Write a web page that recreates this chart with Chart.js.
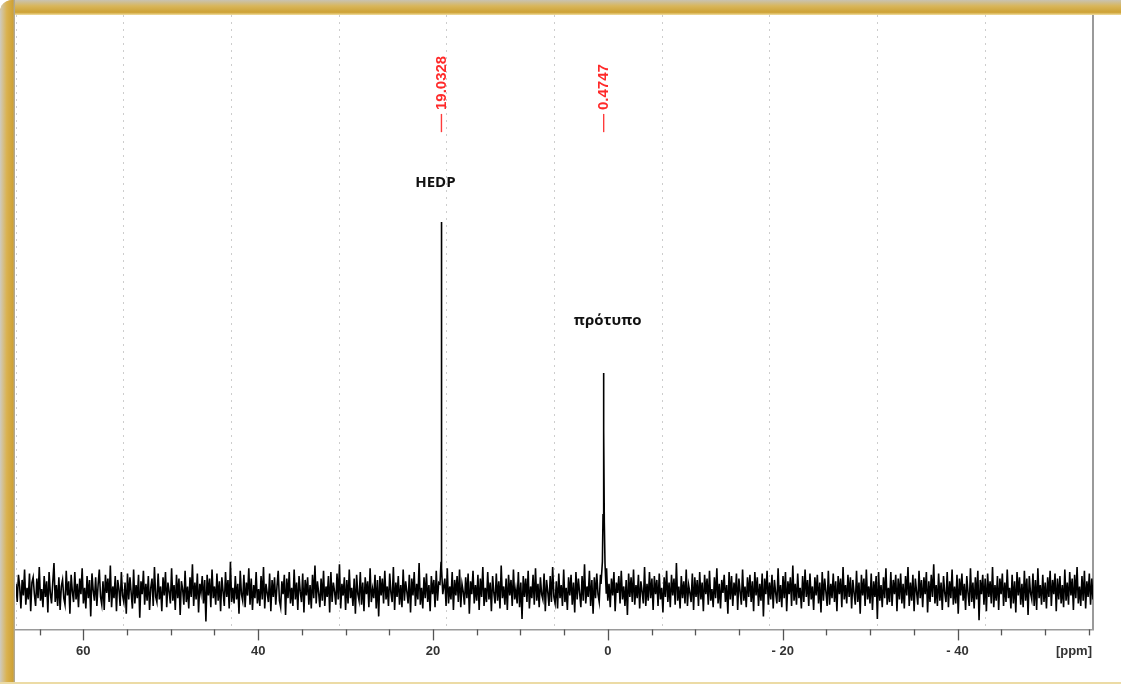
<!DOCTYPE html>
<html>
<head>
<meta charset="utf-8">
<script src="https://cdn.jsdelivr.net/npm/chart.js@4.4.1/dist/chart.umd.min.js"></script>
<style>
  html, body { margin: 0; padding: 0; background: #fff; }
  #wrap { position: relative; width: 1121px; height: 684px; overflow: hidden; }
  #spectrum { position: absolute; left: 0; top: 0; }
  .frame-top { position: absolute; left: 0; top: 0; width: 1121px; height: 15px;
    background: linear-gradient(to bottom, #c9c3b1 0%, #d8b65b 40%, #cea235 82%, #f1dfa2 100%);
    border-top-left-radius: 12px; }
  .frame-left { position: absolute; left: 0; top: 0; width: 15px; height: 684px;
    background: linear-gradient(to right, #cfcbc0 0%, #dab250 45%, #cfa236 85%, #a9a9a9 100%);
    border-top-left-radius: 12px; }
  .frame-bottom { position: absolute; left: 0; bottom: 0; width: 1121px; height: 2px; background: #ecdba5; }
</style>
</head>
<body>
<div id="wrap">
  <canvas id="spectrum" width="1121" height="684"></canvas>
  <div class="frame-top"></div>
  <div class="frame-left"></div>
  <div class="frame-bottom"></div>
</div>
<script>
// 31P spectrum: chemical shift window (ppm), baseline noise and the two signals
const ppmLeft = 67.7;
const ppmRight = -55.5;

const noise = [
  5,-9,12,3,-14,8,-4,16,-11,2,-7,13,-16,6,10,-3,-12,9,-6,18,-8,1,-13,11,-5,7,-17,14,-2,-10,6,21,-9,4,-12,10,-15,3,8,-6,
  -11,15,-4,7,-18,12,-1,-9,14,-7,5,-13,9,-3,17,-10,2,-14,11,-6,8,-20,13,0,-8,10,-12,4,16,-5,-11,7,-15,12,-2,9,-9,19,-13,3,
  -6,11,-16,8,1,-12,14,-4,-9,6,-18,13,-7,10,-2,-14,16,-10,4,-6,12,-21,7,-3,15,-11,5,-8,11,-15,2,9,-12,18,-5,-9,13,-7,3,-16,
  10,-4,14,-13,6,-1,-10,17,-8,4,-15,12,-6,9,-19,7,1,-11,15,-9,3,-14,10,-5,20,-12,6,-7,13,-17,5,-2,11,-10,8,-24,12,-4,9,-13,
  16,-6,3,-11,13,-8,7,-16,10,-1,-12,14,-5,8,-14,22,-9,2,-10,11,-7,5,-18,15,-3,-8,12,-13,6,-4,17,-11,9,-15,4,-6,14,-10,1,-12,
  11,-7,18,-14,5,-2,-9,13,-16,8,-5,10,-11,3,15,-8,-13,7,-3,12,-19,9,-6,14,-10,2,-12,16,-7,6,-15,11,-1,-9,13,-17,8,-4,10,-11,
  4,-14,12,-6,19,-10,7,-2,-13,9,-8,15,-12,3,-5,11,-17,14,-9,6,-1,-11,13,-7,20,-14,5,-4,10,-15,8,-10,16,-6,2,-12,9,-18,12,-3,
  -8,14,-11,6,-16,10,-3,7,-13,17,-9,1,-6,12,-14,8,-20,11,-4,9,-10,15,-7,3,-12,13,-2,-9,18,-15,6,-5,11,-11,4,-13,16,-8,7,-1,
  -10,12,-17,9,-4,14,-12,5,-7,21,-11,2,-14,10,-6,13,-9,4,-16,11,-3,8,-13,15,-8,6,-19,12,-5,-2,9,-12,17,-10,3,-7,14,-15,8,-4,
  11,-9,16,-13,5,-1,-11,10,-6,13,-18,7,-3,15,-10,4,-8,12,-15,9,-5,18,-12,2,-9,14,-7,6,-16,11,-2,-10,13,-8,7,-14,19,-6,3,-11,
  9,-15,12,-4,8,-12,16,-7,1,-10,14,-13,6,-22,11,-5,9,-9,15,-14,3,-6,12,-11,17,-8,5,-13,10,-3,-7,13,-16,8,-1,-12,11,-9,18,-5,
  -10,7,-14,13,-6,4,-12,16,-9,2,-15,10,-4,12,-11,6,-17,14,-7,9,-2,-13,11,-8,20,-10,3,-5,15,-12,8,-18,10,-6,13,-3,-9,12,-14,7,
  1,-11,17,-8,5,-13,9,-4,14,-16,6,-2,11,-10,15,-7,3,-12,8,-19,13,-5,10,-9,16,-11,4,-6,12,-14,7,-1,-10,18,-12,5,-8,14,-6,9,
  -15,11,-3,8,-12,13,-7,2,-17,10,-5,15,-9,6,-13,12,-4,9,-11,21,-8,3,-14,11,-6,7,-10,16,-12,4,-2,-9,13,-15,10,-5,8,-12,14,-7,
  6,-16,12,-3,9,-11,15,-8,1,-13,10,-6,17,-10,5,-14,8,-2,12,-9,4,-18,14,-7,11,-12,6,-4,13,-15,9,-1,-11,16,-8,3,-13,10,-5,12,
  -9,7,-16,14,-4,10,-12,5,-8,13,-20,9,-3,15,-11,6,-7,12,-14,8,-2,-10,17,-9,4,-13,11,-6,14,-16,7,-3,10,-12,19,-8,5,-11,13,-6,
  2,-14,11,-9,16,-5,8,-12,13,-7,3,-15,10,-4,12,-10,6,-17,14,-8,9,-1,-12,15,-11,5,-6,13,-9,7,-16,11,-3,9,-13,18,-7,4,-10,12,
  -5,10,-14,8,-2,-11,15,-9,6,-18,12,-4,9,-12,16,-7,3,-10,13,-15,7,-5,11,-22,14,-8,4,-13,10,-6,17,-11,2,-9,14,-12,8,-3,12,-16,
  9,-7,13,-10,5,-14,11,-4,18,-12,6,-8,12,-16,9,-1,-11,15,-6,8,-13,10,-3,14,-17,7,-9,12,-5,20,-10,4,-12,13,-8,6,-15,11,-2,-9,
  14,-13,7,-6,16,-11,3,-10,12,-18,9,-4,13,-8,5,-15,11,-2,-12,17,-9,6,-14,10,-7,15,-23,8,-3,12,-11,9,-16,13,-5,7,-10,18,-13,4,
  -8,11,-15,9,-3,13,-12,6,-9,16,-6,2,-14,12,-10,7,-17,14,-4,10,-11,5,-13,15,-8,9,-19,11,-2,-7,13,-12,8,-15,17,-6,4,-11,12,-9,
  6,-14,10,-5,15,-12,8,-3,13,-16,9,-7,11,-10,4,-13,16,-8,6,-11,14,-4,9,-15,12,-6,18,-10,3,-12,11,-8,15,-14,7,-5,13,-11,9,-7
];

const peakPpm = [19.0328, 0.4747];
const peakNames = ['HEDP', 'πρότυπο'];
const peakLabels = ['19.0328', '0.4747'];

// [ppm, intensity] around each signal
const hedpShape = [[19.20, 5], [19.08, 22], [19.045, 229], [19.0328, 283], [19.02, 225], [18.99, 17], [18.88, -3]];
const refShape = [[0.78, 5], [0.62, 22], [0.55, 58], [0.50, 141], [0.4747, 167], [0.45, 123], [0.40, 52], [0.32, 20], [0.18, -2]];

// noise sits on an even ppm grid; signals replace it near their shifts
const step = (ppmLeft - ppmRight) / (noise.length - 1);
let points = noise.map((v, i) => ({ x: ppmLeft - i * step, y: v }))
  .filter(p => peakPpm.every(c => Math.abs(p.x - c) > 0.3));
hedpShape.concat(refShape).forEach(([x, y]) => points.push({ x, y }));
points.sort((a, b) => b.x - a.x);

const tickFont = 'bold 13px "Liberation Sans", Arial, sans-serif';

const spectrumDecor = {
  id: 'spectrumDecor',
  afterDraw(chart) {
    const { ctx, chartArea, scales } = chart;
    const xs = scales.x, ys = scales.y;
    ctx.save();

    // ticks below the axis, long ones every 20 ppm
    ctx.strokeStyle = '#555';
    ctx.lineWidth = 1.3;
    xs.ticks.forEach(t => {
      const px = Math.round(xs.getPixelForValue(t.value)) + 0.5;
      const len = t.value % 20 === 0 ? 11 : 6;
      ctx.beginPath();
      ctx.moveTo(px, chartArea.bottom);
      ctx.lineTo(px, chartArea.bottom + len);
      ctx.stroke();
    });

    ctx.fillStyle = '#333';
    ctx.font = tickFont;
    ctx.textAlign = 'right';
    ctx.textBaseline = 'middle';
    ctx.fillText('[ppm]', chartArea.right - 1, chartArea.bottom + 22);

    // peak picking marks with rotated shift values
    peakPpm.forEach((c, i) => {
      const px = xs.getPixelForValue(c);
      ctx.strokeStyle = '#ff3b3b';
      ctx.lineWidth = 1.4;
      ctx.beginPath();
      ctx.moveTo(px, ys.getPixelForValue(366));
      ctx.lineTo(px, ys.getPixelForValue(352));
      ctx.stroke();

      ctx.save();
      ctx.translate(px, ys.getPixelForValue(369));
      ctx.rotate(-Math.PI / 2);
      ctx.fillStyle = '#ff2a2a';
      ctx.font = 'bold 15px "Liberation Sans", Arial, sans-serif';
      ctx.textAlign = 'left';
      ctx.textBaseline = 'middle';
      ctx.fillText(peakLabels[i], 0, 0);
      ctx.restore();
    });

    // compound names above the signals
    ctx.fillStyle = '#111';
    ctx.font = 'bold 15px "Open Sans", "Noto Sans", sans-serif';
    ctx.textAlign = 'center';
    ctx.textBaseline = 'middle';
    ctx.fillText(peakNames[0], xs.getPixelForValue(peakPpm[0]) - 6, ys.getPixelForValue(313));
    ctx.fillText(peakNames[1], xs.getPixelForValue(peakPpm[1]) + 4, ys.getPixelForValue(207));
    ctx.restore();
  }
};

new Chart(document.getElementById('spectrum').getContext('2d'), {
  type: 'line',
  data: {
    datasets: [{
      data: points,
      borderColor: '#000',
      borderWidth: 1.6,
      pointRadius: 0,
      tension: 0,
      fill: false
    }]
  },
  options: {
    responsive: false,
    animation: false,
    layout: { padding: { left: 16, right: 28, top: 15, bottom: 11 } },
    plugins: { legend: { display: false }, tooltip: { enabled: false } },
    scales: {
      x: {
        type: 'linear',
        reverse: true,
        min: ppmRight,
        max: ppmLeft,
        grid: { drawOnChartArea: false, drawTicks: false },
        border: { display: true, color: '#9a9a9a', width: 1.5 },
        ticks: {
          stepSize: 5,
          includeBounds: false,
          autoSkip: false,
          maxRotation: 0,
          padding: 14,
          color: '#333',
          font: { family: '"Liberation Sans", Arial, sans-serif', size: 13, weight: 'bold' },
          callback: v => v % 20 === 0 ? (v < 0 ? '- ' + (-v) : String(v)) : ''
        }
      },
      g: {
        type: 'linear',
        position: 'top',
        min: 0,
        max: 10,
        ticks: { display: false, stepSize: 1 },
        grid: { color: '#cdcdcd', lineWidth: 1, drawTicks: false },
        border: { display: false, dash: [2, 5] }
      },
      y: {
        position: 'right',
        min: -30,
        max: 442,
        ticks: { display: false },
        grid: { drawOnChartArea: false, drawTicks: false },
        border: { display: true, color: '#9a9a9a', width: 2 }
      }
    }
  },
  plugins: [spectrumDecor]
});
</script>
</body>
</html>
